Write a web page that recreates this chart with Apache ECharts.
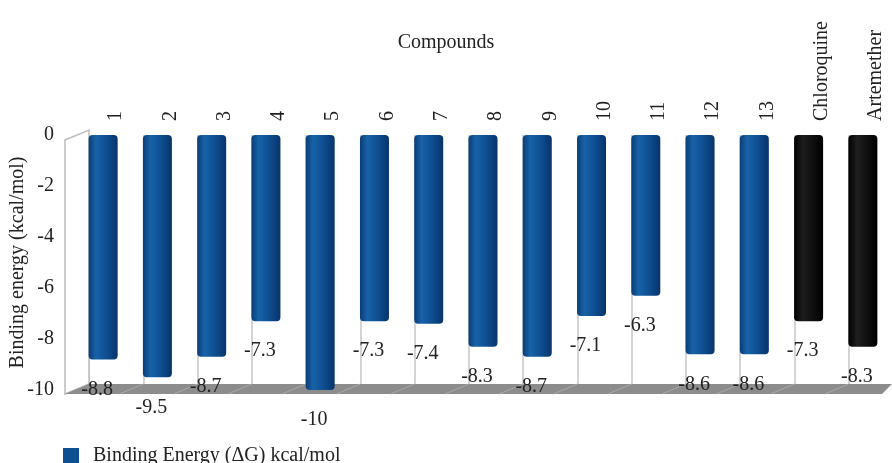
<!DOCTYPE html>
<html>
<head>
<meta charset="utf-8">
<script src="https://cdn.jsdelivr.net/npm/echarts@6/dist/echarts.min.js"></script>
<style>
  html, body { margin: 0; padding: 0; background: #fff; }
  #container { width: 892px; height: 463px; }
</style>
</head>
<body>
<div id="container"></div>
<script>
var compounds = ['1', '2', '3', '4', '5', '6', '7', '8', '9', '10', '11', '12', '13', 'Chloroquine', 'Artemether'];
var bindingEnergy = [-8.8, -9.5, -8.7, -7.3, -10, -7.3, -7.4, -8.3, -8.7, -7.1, -6.3, -8.6, -8.6, -7.3, -8.3];
var refDrugs = ['Chloroquine', 'Artemether'];
var yTicks = [0, -2, -4, -6, -8, -10];

var dom = document.getElementById('container');
var myChart = echarts.init(dom);
var serif = '"Liberation Serif", "DejaVu Serif", serif';

var blueBar = new echarts.graphic.LinearGradient(0, 0, 1, 0, [
    {offset: 0, color: '#0a3d75'},
    {offset: 0.25, color: '#1862a8'},
    {offset: 0.6, color: '#0e4f92'},
    {offset: 1, color: '#08346a'}
]);
var blackBar = new echarts.graphic.LinearGradient(0, 0, 1, 0, [
    {offset: 0, color: '#000'},
    {offset: 0.3, color: '#1e1e1e'},
    {offset: 1, color: '#000'}
]);

var barData = bindingEnergy.map(function (v, i) {
    var isRef = refDrugs.indexOf(compounds[i]) >= 0;
    return {value: v, itemStyle: {color: isRef ? blackBar : blueBar}};
});

// 3D-ish wall and floor (decoration only)
var step = 814 / 15;
var deco = [
    {type: 'polygon', z: 1, shape: {points: [[65, 140], [89, 130], [89, 384], [65, 394]]},
        style: {fill: '#fff', stroke: '#bdbdbd', lineWidth: 1.5}},
    {type: 'polygon', z: 1, shape: {points: [[65, 394], [89, 384], [892, 384], [882, 394]]},
        style: {fill: '#8c8c8c'}}
];
for (var k = 1; k < 15; k++) {
    deco.push({type: 'line', z: 1, shape: {x1: 89 + step * k, y1: 384, x2: 65 + step * k, y2: 394},
        style: {stroke: '#a9a9a9', lineWidth: 1}});
}

var option = {
    animation: false,
    title: {
        text: 'Compounds',
        left: 'center',
        top: 28,
        textStyle: {fontFamily: serif, fontSize: 20, fontWeight: 'normal', color: '#222'}
    },
    legend: {
        left: 58,
        top: 441,
        itemWidth: 16,
        itemHeight: 16,
        icon: 'rect',
        textStyle: {fontFamily: serif, fontSize: 20, color: '#222', padding: [0, 0, 0, 9]},
        data: [{name: 'Binding Energy (ΔG) kcal/mol', itemStyle: {color: '#0e4f92'}}]
    },
    graphic: deco,
    grid: [
        {left: 76, width: 814, top: 135, bottom: 73, outerBoundsMode: 'none'},
        {left: 89, width: 814, top: 135, bottom: 73, outerBoundsMode: 'none'}
    ],
    xAxis: [
        {
            type: 'category',
            gridIndex: 0,
            data: compounds,
            position: 'top',
            axisLine: {show: false},
            axisTick: {show: false},
            axisLabel: {show: false}
        },
        {
            type: 'category',
            gridIndex: 1,
            data: compounds,
            position: 'top',
            axisLine: {show: false},
            axisTick: {show: false},
            axisLabel: {
                interval: 0,
                rotate: 90,
                margin: 14,
                fontFamily: serif,
                fontSize: 20,
                color: '#222'
            },
            splitLine: {show: true, interval: 0, lineStyle: {color: '#c6c6c6', width: 1.5}}
        }
    ],
    yAxis: [
        {
            type: 'value',
            gridIndex: 0,
            min: -10,
            max: 0,
            interval: 2,
            name: 'Binding energy (kcal/mol)',
            nameLocation: 'middle',
            nameGap: 48,
            nameMoveOverlap: false,
            nameTextStyle: {fontFamily: serif, fontSize: 20, color: '#222'},
            axisLine: {show: false},
            axisTick: {show: false},
            splitLine: {show: false},
            axisLabel: {
                margin: 22,
                fontFamily: serif,
                fontSize: 20,
                color: '#222',
                formatter: function (v) { return yTicks.indexOf(v) >= 0 ? String(v) : ''; }
            }
        },
        {
            type: 'value',
            gridIndex: 1,
            min: -10,
            max: 0,
            show: false
        }
    ],
    series: [
        {
            name: 'Binding Energy (ΔG) kcal/mol',
            type: 'bar',
            xAxisIndex: 0,
            yAxisIndex: 0,
            barWidth: 29,
            z: 3,
            itemStyle: {color: '#0e4f92', borderRadius: 4},
            label: {
                show: true,
                position: 'bottom',
                distance: 20,
                offset: [-6, 0],
                fontFamily: serif,
                fontSize: 20,
                color: '#222'
            },
            data: barData
        }
    ]
};
myChart.setOption(option);
</script>
</body>
</html>
